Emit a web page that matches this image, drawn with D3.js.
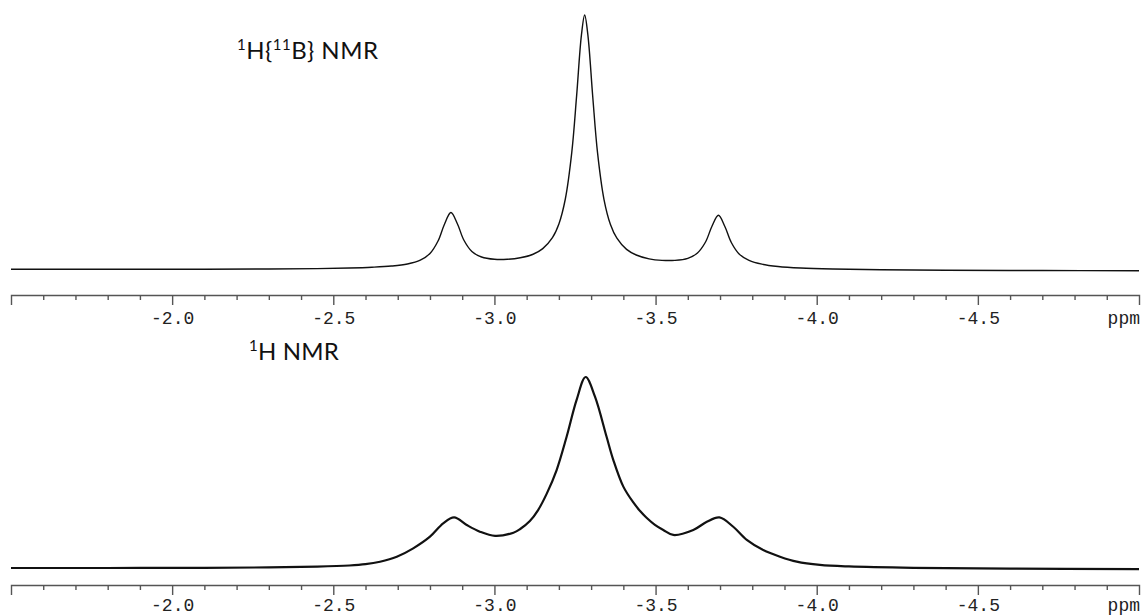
<!DOCTYPE html>
<html>
<head>
<meta charset="utf-8">
<script src="https://cdn.jsdelivr.net/npm/d3@7"></script>
<style>
body { margin: 0; background: #fff; }
</style>
</head>
<body>
<svg id="chart"></svg>
<script>
// 1H{11B} spectrum (top), intensity in % of main peak
var ppmTop = [-1.50, -1.80, -2.10, -2.30, -2.45, -2.55, -2.62, -2.68, -2.73, -2.77,
              -2.80, -2.825, -2.845, -2.865, -2.885, -2.905, -2.93, -2.96, -3.00, -3.04,
              -3.08, -3.12, -3.15, -3.18, -3.20, -3.22, -3.24, -3.255, -3.27, -3.28,
              -3.29, -3.305, -3.32, -3.34, -3.36, -3.38, -3.41, -3.44, -3.48, -3.52,
              -3.56, -3.60, -3.63, -3.655, -3.675, -3.695, -3.715, -3.735, -3.76, -3.79,
              -3.83, -3.88, -3.95, -4.05, -4.20, -4.40, -4.70, -5.00];
var intTop = [0.1, 0.1, 0.1, 0.2, 0.35, 0.6, 0.9, 1.35, 2.15, 3.65,
              6.3, 11.2, 17.8, 22.4, 18.0, 11.6, 7.1, 4.9, 4.0, 4.0,
              4.6, 6.0, 8.2, 12.5, 17.9, 27.7, 46.0, 68.2, 92.2, 100,
              92.1, 68.0, 45.8, 27.5, 17.7, 12.3, 7.9, 5.7, 4.2, 3.6,
              3.6, 4.4, 6.5, 10.8, 17.0, 21.3, 16.9, 10.6, 6.0, 3.6,
              2.1, 1.2, 0.6, 0.2, -0.1, -0.3, -0.4, -0.5];

// 1H spectrum (bottom)
var ppmBot = [-1.50, -1.80, -2.10, -2.30, -2.45, -2.55, -2.60, -2.645, -2.697, -2.748,
              -2.800, -2.841, -2.875, -2.914, -2.955, -3.002, -3.059, -3.079, -3.110, -3.135,
              -3.162, -3.193, -3.224, -3.255, -3.283, -3.312, -3.348, -3.369, -3.400, -3.431,
              -3.452, -3.472, -3.498, -3.524, -3.555, -3.617, -3.659, -3.698, -3.741, -3.783,
              -3.834, -3.886, -3.938, -4.010, -4.10, -4.30, -4.60, -5.00];
var intBot = [0, 0, 0.1, 0.3, 0.7, 1.3, 2.0, 3.3, 5.9, 10.3,
              16.4, 23.4, 26.5, 22.5, 19.0, 16.8, 18.5, 20.3, 24.6, 30.2,
              38.8, 51.3, 68.7, 88.0, 100, 89.7, 68.7, 56.5, 42.6, 34.3,
              29.8, 26.3, 22.6, 19.9, 17.3, 19.9, 24.2, 26.5, 21.6, 14.7,
              9.4, 5.9, 3.3, 1.6, 0.8, 0.1, -0.3, -0.6];

var majorTicks = [-2.0, -2.5, -3.0, -3.5, -4.0, -4.5];
var minorTicks = [-1.6, -1.7, -1.8, -1.9, -2.1, -2.2, -2.3, -2.4, -2.6, -2.7, -2.8, -2.9,
                  -3.1, -3.2, -3.3, -3.4, -3.6, -3.7, -3.8, -3.9, -4.1, -4.2, -4.3, -4.4,
                  -4.6, -4.7, -4.8, -4.9];
var unitLabel = "ppm";

var width = 1142, height = 616;
var svg = d3.select("#chart").attr("width", width).attr("height", height);

var x = d3.scaleLinear().domain([-1.5, -5.0]).range([11, 1139]);

function drawPanel(ppm, vals, yBase, yPeak, axisY, lineW, pad) {
    var y = d3.scaleLinear().domain([0, 100]).range([yBase, yPeak]);
    var pts = ppm.map((p, i) => [p, vals[i]]);
    var line = d3.line()
        .x(d => x(d[0]))
        .y(d => y(d[1]))
        .curve(d3.curveCatmullRom.alpha(0.5));
    svg.append("path")
        .datum(pts)
        .attr("d", line)
        .attr("fill", "none")
        .attr("stroke", "#111")
        .attr("stroke-width", lineW)
        .attr("stroke-linejoin", "round");

    var gMinor = svg.append("g").attr("transform", "translate(0," + axisY + ")");
    gMinor.call(d3.axisBottom(x).tickValues(minorTicks).tickSize(5).tickSizeOuter(0).tickFormat(""));
    gMinor.select(".domain").remove();

    var gMajor = svg.append("g").attr("transform", "translate(0," + axisY + ")");
    gMajor.call(d3.axisBottom(x).tickValues(majorTicks).tickSize(10).tickSizeOuter(10)
        .tickPadding(pad).tickFormat(d => d.toFixed(1)));

    [gMinor, gMajor].forEach(g => {
        g.attr("color", "#555");
        g.selectAll("path, line").attr("stroke-width", 1.4);
    });
    gMajor.attr("font-family", "'Liberation Mono', 'Courier New', monospace")
        .attr("font-size", 18);
    gMajor.selectAll("text").attr("fill", "#222");

    gMajor.append("text")
        .attr("x", 1140)
        .attr("y", 10 + pad + 12.8)
        .attr("text-anchor", "end")
        .attr("fill", "#222")
        .text(unitLabel);
}

drawPanel(ppmTop, intTop, 269.5, 15, 295, 1.4, 6);
drawPanel(ppmBot, intBot, 568, 377, 585, 2.2, 3);

// spectrum labels
var labFont = "Lato, 'Open Sans', sans-serif";
var lab1 = svg.append("text").attr("x", 237).attr("y", 59)
    .attr("font-family", labFont).attr("font-size", 24).attr("letter-spacing", 0.5).attr("fill", "#111");
lab1.append("tspan").attr("font-size", 15).attr("dy", -9).text("1");
lab1.append("tspan").attr("dy", 9).text("H{");
lab1.append("tspan").attr("font-size", 15).attr("dy", -9).text("11");
lab1.append("tspan").attr("dy", 9).text("B} NMR");

var lab2 = svg.append("text").attr("x", 249).attr("y", 360)
    .attr("font-family", labFont).attr("font-size", 24).attr("letter-spacing", 0.2).attr("fill", "#111");
lab2.append("tspan").attr("font-size", 15).attr("dy", -9).text("1");
lab2.append("tspan").attr("dy", 9).text("H NMR");
</script>
</body>
</html>
